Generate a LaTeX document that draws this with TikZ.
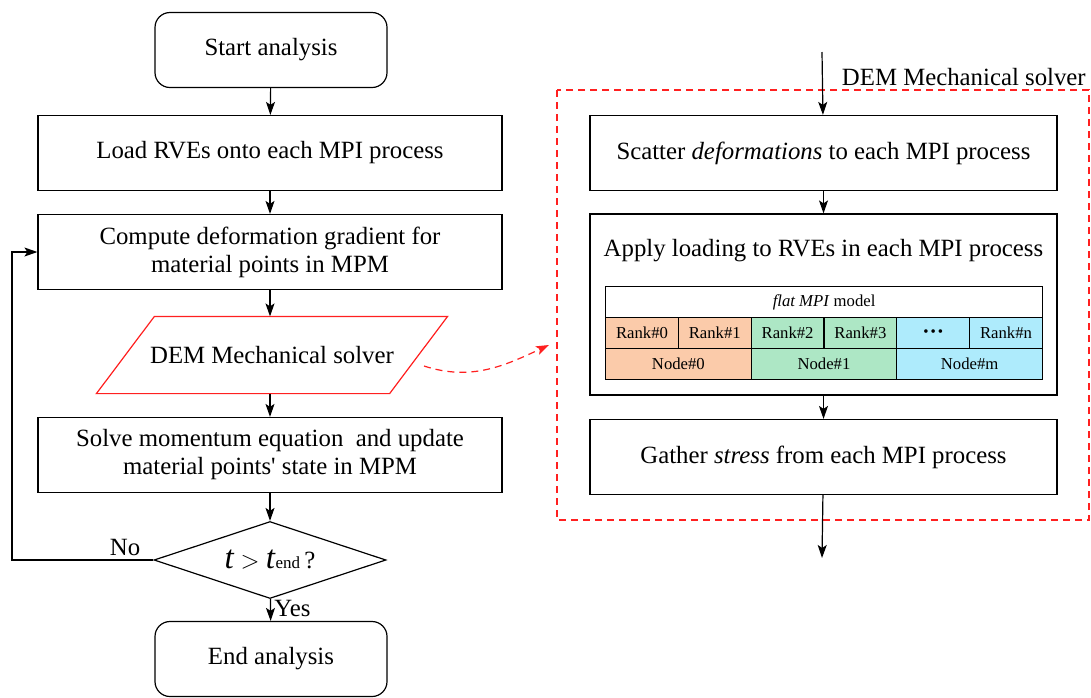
\documentclass[tikz,border=0pt]{standalone}
\usepackage{fontspec}
\setmainfont{Liberation Serif}
\usepackage{xcolor}
\usetikzlibrary{arrows.meta,calc,shapes.geometric}
\definecolor{redline}{HTML}{FF2020}
\definecolor{orangecell}{HTML}{FBCBAA}
\definecolor{greencell}{HTML}{ADE7C5}
\definecolor{bluecell}{HTML}{AEEBFC}
\tikzset{every node/.append style={font=\fontsize{24.8}{28}\selectfont}}
\begin{document}
\begin{tikzpicture}[x=1pt,y=-1pt,line width=1.2pt,>={Stealth[length=13pt,width=9pt,inset=3pt]},
  stepbox/.style={draw,minimum width=464,minimum height=75,align=center,inner sep=0},
  endbox/.style={draw,rounded corners=15,minimum width=232,minimum height=75,inner sep=0},
  rbox/.style={draw,minimum width=467,minimum height=75,inner sep=0},
  cell/.style={draw,minimum height=31,inner sep=0,font=\fontsize{16.7}{18}\selectfont}]
\useasboundingbox (0,0) rectangle (1091,697);
% left flow
\node[endbox] (start) at (271,50) {Start analysis};
\node[stepbox] (load) at (270,153) {Load RVEs onto each MPI process};
\node[stepbox] (comp) at (270,252) {Compute deformation gradient for\\material points in MPM};
\node[minimum width=292,minimum height=76,inner sep=0] (dem) at (272,355) {DEM Mechanical solver};
\draw[redline] ($(dem.south west)+(-29,0)$)--($(dem.north west)+(29,0)$)--($(dem.north east)+(29,0)$)--($(dem.south east)+(-29,0)$)--cycle;
\node[stepbox] (solve) at (270,455) {Solve momentum equation \ and update\\material points\textquotesingle\ state in MPM};
\node[draw,diamond,minimum width=232,minimum height=77,inner sep=0,aspect=3] (check) at (270,560)
  {\textit{\fontsize{33}{33}\selectfont t} $>$ \textit{\fontsize{33}{33}\selectfont t}{\fontsize{17}{17}\selectfont end}\,?};
\node[endbox] (end) at (271,659) {End analysis};
\draw[->] (start)--(load);
\draw[->] (load)--(comp);
\draw[->] (comp)--(comp|-dem.north);
\draw[->] (comp|-dem.south)--(solve);
\draw[->] (solve)--(check);
\draw[->] (check)--(end) node[pos=.45,right] {Yes};
\draw[->] (check.west)--(12,560) node[pos=.2,above] {No} |- (comp.west);
% right part
\draw[redline,dash pattern=on 7pt off 5pt] (557,90) rectangle (1089,520);
\coordinate (din) at (822,52); \coordinate (dout) at (822,558);
\node[rbox] (scat) at (823.5,153) {Scatter \textit{deformations} to each MPI process};
\node[rbox,minimum height=181] (apply) at (823.5,304.5) {};
\node (applytxt) at ($(apply.north)+(0,37)$) {Apply loading to RVEs in each MPI process};
\node[rbox] (gath) at (823.5,457) {Gather \textit{stress} from each MPI process};
\node[anchor=west] (demlbl) at (838,77) {DEM Mechanical solver};
\draw[->] (din)--(scat);
\draw[->] (scat)--(apply);
\draw[->] (apply)--(gath);
\draw[->] (gath)--(dout);
% flat MPI table
\node[cell,minimum width=437,anchor=north west] (title) at (605,286) {\textit{flat MPI} model};
\foreach \i/\c/\t in {0/orangecell/Rank\#0,1/orangecell/Rank\#1,2/greencell/Rank\#2,3/greencell/Rank\#3,4/bluecell/{\fontsize{15}{15}\selectfont\textbullet\hspace{2pt}\textbullet\hspace{2pt}\textbullet},5/bluecell/Rank\#n}
  \node[cell,fill=\c,minimum width=72.8,anchor=north west] (rank\i) at (605+72.8*\i,317) {\t};
\foreach \i/\c/\t in {0/orangecell/Node\#0,1/greencell/Node\#1,2/bluecell/Node\#m}
  \node[cell,fill=\c,minimum width=145.6,anchor=north west] (node\i) at (605+145.6*\i,348) {\t};
\coordinate (c1) at (424,366); \coordinate (c2) at (549,345);
\draw[->,redline,dash pattern=on 7pt off 5pt] (c1) to[out=-18,in=205] (c2);
\end{tikzpicture}
\end{document}
